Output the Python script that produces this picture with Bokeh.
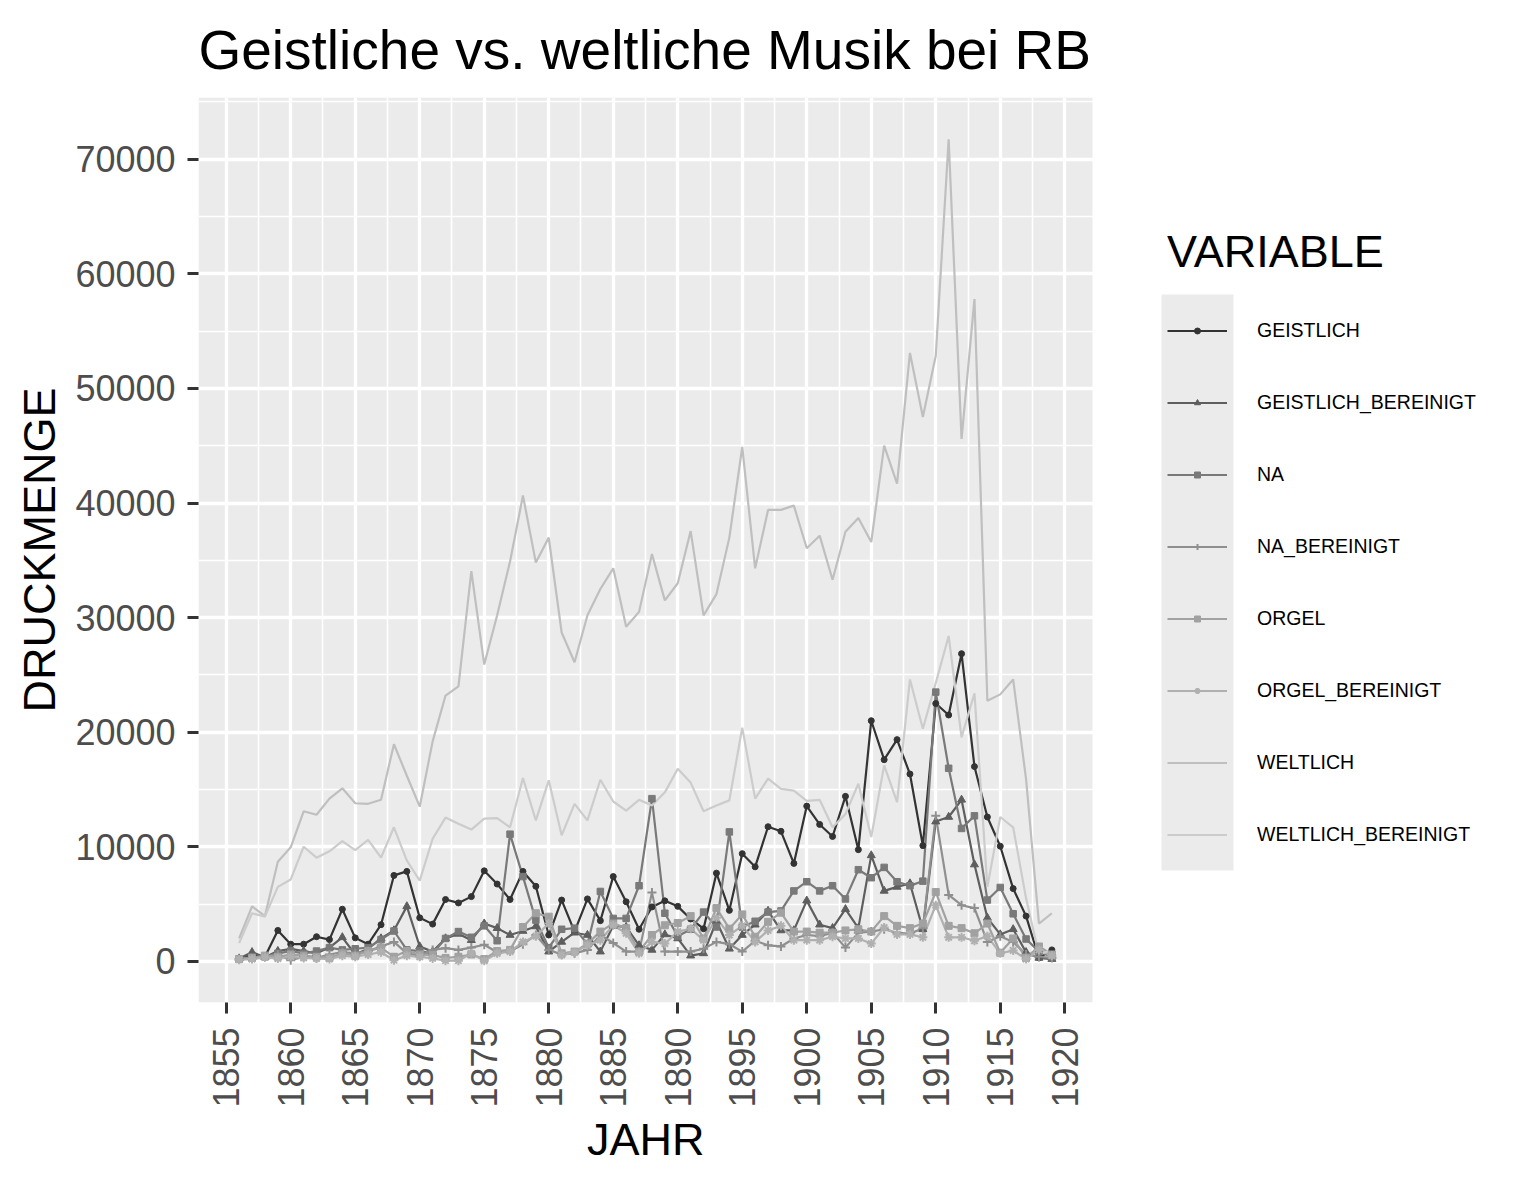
import math
from bokeh.plotting import figure
from bokeh.models import (Range1d, FixedTicker, Legend, LegendItem, NumeralTickFormatter,
                          BoxAnnotation, Title)
from bokeh.embed import file_html
from bokeh.resources import INLINE

FONT = "Liberation Sans"

years = list(range(1856, 1920))

geistlich = [250, 550, 400, 2700, 1500, 1500, 2150, 1900, 4550, 2050,
             1500, 3200, 7500, 7850, 3800, 3250, 5400, 5100, 5650, 7900,
             6750, 5400, 7850, 6550, 2300, 5350, 2600, 5450, 3550, 7400,
             5200, 2800, 4750, 5280, 4800, 3700, 2850, 7700, 4450, 9400,
             8250, 11750, 11350, 8550, 13550, 11950, 10900, 14400, 9750, 21000,
             17600, 19350, 16350, 10100, 22500, 21500, 26850, 17000, 12600, 10050,
             6350, 3950, 300, 1000]

geistlich_bereinigt = [250, 800, 350, 900, 1100, 900, 700, 1200, 2100, 600,
                       1100, 2000, 2700, 4800, 1300, 850, 2000, 2400, 1850, 3300,
                       2900, 2300, 2650, 3050, 850, 1700, 2500, 2300, 850, 3100,
                       3000, 1400, 1000, 2350, 2000, 500, 700, 3500, 1100, 2300,
                       3200, 4400, 2700, 2700, 5300, 3200, 2900, 4550, 2900, 9250,
                       6150, 6500, 6800, 2800, 12200, 12600, 14100, 8450, 3800, 2350,
                       2800, 800, 300, 200]

na = [200, 400, 400, 700, 900, 700, 900, 1200, 1000, 1100,
      1200, 1900, 2650, 1000, 900, 700, 2000, 2600, 2100, 3100,
      1800, 11100, 7400, 3600, 1200, 2800, 2900, 1500, 6100, 3750,
      3750, 6600, 14200, 4200, 2200, 2800, 4300, 3000, 11300, 3000,
      3500, 4300, 4400, 6150, 6950, 6150, 6600, 5450, 8000, 7300,
      8200, 6950, 6600, 7000, 23500, 16850, 11600, 12700, 5350, 6450,
      4150, 1950, 850, 400]

na_bereinigt = [200, 250, 400, 600, 100, 400, 300, 600, 800, 700,
                900, 1300, 1700, 700, 500, 1000, 1150, 1000, 1200, 1450,
                800, 850, 1500, 2300, 1000, 600, 700, 1000, 2300, 1600,
                850, 850, 6000, 850, 850, 850, 1100, 1700, 1500, 850,
                1800, 1400, 1300, 2000, 2300, 2200, 2500, 1200, 2500, 2600,
                2800, 2500, 2400, 2900, 12700, 5800, 4900, 4650, 1700, 2200,
                1700, 600, 400, 300]

orgel = [200, 300, 500, 400, 600, 500, 400, 300, 700, 500,
         900, 1200, 400, 900, 600, 550, 300, 400, 600, 200,
         900, 1000, 3000, 4200, 3900, 700, 850, 1550, 2600, 3300,
         2900, 850, 2300, 3150, 3350, 3950, 2000, 4650, 2850, 4100,
         2150, 3450, 4250, 2600, 2600, 2500, 2500, 2700, 2800, 2600,
         3950, 3100, 2900, 3300, 6050, 3100, 2900, 2450, 3300, 750,
         2000, 300, 1300, 600]

orgel_bereinigt = [150, 200, 350, 250, 400, 300, 250, 200, 500, 400,
                   600, 800, 100, 500, 400, 260, 60, 60, 700, 50,
                   700, 850, 1700, 2200, 3300, 550, 800, 1400, 1850, 3150,
                   2450, 700, 1700, 1550, 2600, 2850, 1850, 3800, 2300, 3100,
                   1700, 2700, 3100, 1850, 1850, 1850, 2150, 2000, 2000, 1550,
                   2950, 2350, 2350, 2100, 4900, 2100, 2100, 1800, 2200, 700,
                   950, 200, 1000, 500]

weltlich = [2000, 4800, 3950, 8700, 9950, 13100, 12800, 14200, 15100, 13800,
            13750, 14100, 18950, 16200, 13500, 19200, 23200, 24000, 34050, 25900,
            30200, 34900, 40650, 34800, 36980, 28700, 26100, 30200, 32500, 34300,
            29200, 30500, 35550, 31500, 33000, 37550, 30200, 32050, 36980, 44900,
            34300, 39400, 39400, 39770, 36050, 37150, 33300, 37500, 38700, 36600,
            45000, 41700, 53100, 47500, 52850, 71750, 45600, 57800, 22750, 23300,
            24600, 15900, 3300, 4200]

weltlich_bereinigt = [1600, 4200, 3900, 6500, 7150, 10000, 9050, 9600, 10500, 9700,
                      10600, 9050, 11700, 8800, 7050, 10700, 12550, 12000, 11500, 12450,
                      12500, 11700, 16000, 12300, 15800, 11000, 13750, 12300, 15850, 13950,
                      13150, 14100, 13600, 14750, 16800, 15600, 13100, 13600, 14050, 20400,
                      14200, 15950, 15050, 14900, 14000, 14100, 11700, 12850, 15500, 10850,
                      17100, 13900, 24600, 20300, 24300, 28400, 19550, 23400, 6500, 12600,
                      11700, 5500, 600, 1000]

series_names = ["GEISTLICH", "GEISTLICH_BEREINIGT", "NA", "NA_BEREINIGT",
                "ORGEL", "ORGEL_BEREINIGT", "WELTLICH", "WELTLICH_BEREINIGT"]
series_values = [geistlich, geistlich_bereinigt, na, na_bereinigt,
                 orgel, orgel_bereinigt, weltlich, weltlich_bereinigt]

x_ticks = [1855, 1860, 1865, 1870, 1875, 1880, 1885, 1890, 1895, 1900, 1905, 1910, 1915, 1920]
x_minor = [1852.5, 1857.5, 1862.5, 1867.5, 1872.5, 1877.5, 1882.5, 1887.5, 1892.5,
           1897.5, 1902.5, 1907.5, 1912.5, 1917.5]
y_ticks = [0, 10000, 20000, 30000, 40000, 50000, 60000, 70000]
y_minor = [-5000, 5000, 15000, 25000, 35000, 45000, 55000, 65000, 75000]

# styles (not data)
colors = ["#333333", "#5E5E5E", "#797979", "#8F8F8F", "#A1A1A1", "#B0B0B0", "#BFBFBF", "#CCCCCC"]
markers = ["circle", "triangle", "square", "cross", "square", "asterisk", None, None]
msizes = [6, 8, 6.5, 9, 7, 9, 0, 0]

# layout: the grey ggplot panel spans x pixels PL..PR; the Bokeh frame is wider so
# that the legend (drawn inside the frame, to the right of the panel) is not clipped
X0, X1 = 1852.85, 1922.15          # panel limits (ggplot expanded range)
Y0, Y1 = -3590, 75390
PL, PT, PR, PB = 198, 97, 1092, 1002
FRAME_R = 1500
px_per_year = (PR - PL) / (X1 - X0)
x_end = X0 + (FRAME_R - PL) / px_per_year

p = figure(frame_width=FRAME_R - PL, frame_height=PB - PT,
           output_backend="svg", toolbar_location=None,
           x_range=Range1d(X0, x_end), y_range=Range1d(Y0, Y1),
           min_border_left=PL, min_border_top=PT, min_border_right=10,
           min_border_bottom=173,
           background_fill_color="white", border_fill_color="white", outline_line_color=None)

# grey panel background (under the grid)
panel_bg = BoxAnnotation(left=X0, right=X1, fill_color="#EBEBEB", fill_alpha=1,
                         line_color=None, level="underlay")
p.center = [panel_bg] + list(p.center)

p.title.text = "Geistliche vs. weltliche Musik bei RB"
p.title.text_font = FONT
p.title.text_font_size = "55px"
p.title.text_font_style = "normal"
p.title.text_color = "black"
p.title.align = "left"
p.title.standoff = 33

p.xaxis.ticker = FixedTicker(ticks=x_ticks, minor_ticks=x_minor)
p.yaxis.ticker = FixedTicker(ticks=y_ticks, minor_ticks=y_minor)
p.yaxis.formatter = NumeralTickFormatter(format="0")
p.yaxis.axis_label = "DRUCKMENGE"
for ax in (p.xaxis[0], p.yaxis[0]):
    ax.axis_line_color = None
    ax.major_tick_line_color = "#333333"
    ax.major_tick_line_width = 3
    ax.major_tick_in = 0
    ax.major_tick_out = 11
    ax.minor_tick_line_color = None
    ax.major_label_text_font = FONT
    ax.major_label_text_font_size = "36px"
    ax.major_label_text_color = "#4D4D4D"
    ax.axis_label_text_font = FONT
    ax.axis_label_text_font_size = "45px"
    ax.axis_label_text_font_style = "normal"
    ax.axis_label_text_color = "black"
p.xaxis.major_label_orientation = math.pi / 2
p.xaxis.major_label_standoff = 14
p.yaxis.major_label_standoff = 12
p.yaxis.axis_label_standoff = 7

# x axis title, centred under the grey panel
jahr_w = 117
p.add_layout(Title(text="JAHR", align="left", offset=(PL + PR) / 2 - PL - jahr_w / 2,
                   text_font=FONT, text_font_size="45px", text_font_style="normal",
                   text_color="black", standoff=2), "below")

for g in (p.xgrid[0], p.ygrid[0]):
    g.grid_line_color = "white"
    g.grid_line_width = 3.3
    g.minor_grid_line_color = "white"
    g.minor_grid_line_width = 1.6

line_rs = []
for name, vals, c in zip(series_names, series_values, colors):
    line_rs.append(p.line(years, vals, line_color=c, line_width=2.2))

point_rs = []
for vals, c, m, s in zip(series_values, colors, markers, msizes):
    if m is None:
        point_rs.append(None)
        continue
    point_rs.append(p.scatter(years, vals, marker=m, size=s, fill_color=c,
                              line_color=c, line_width=2 if m in ("cross", "asterisk") else 1))

# grey legend-key column
KEY_L, KEY_R, KEY_TOP, KEY_BOT = 1161, 1233, 294, 870
p.add_layout(BoxAnnotation(left=KEY_L - PL, right=KEY_R - PL,
                           bottom=PB - KEY_BOT, top=PB - KEY_TOP,
                           left_units="screen", right_units="screen",
                           bottom_units="screen", top_units="screen",
                           fill_color="#EBEBEB", fill_alpha=1, line_color=None))

items = []
for name, lr, pr in zip(series_names, line_rs, point_rs):
    rs = [lr] if pr is None else [lr, pr]
    items.append(LegendItem(label=name, renderers=rs))

GW = 60
LEG_L = 1167
legend = Legend(items=items, location=(LEG_L - PL, PB - KEY_BOT), title="VARIABLE",
                title_text_font=FONT, title_text_font_size="45px",
                title_text_font_style="normal", title_text_color="black",
                title_standoff=16,
                label_text_font=FONT, label_text_font_size="19.5px",
                label_text_color="black", label_text_baseline="middle",
                glyph_width=GW, glyph_height=15, label_height=72,
                label_standoff=1257 - (LEG_L + GW), spacing=0, padding=0, margin=0,
                background_fill_alpha=0, border_line_color=None)
p.add_layout(legend, "center")

open("out.html", "w").write(file_html(p, INLINE))
